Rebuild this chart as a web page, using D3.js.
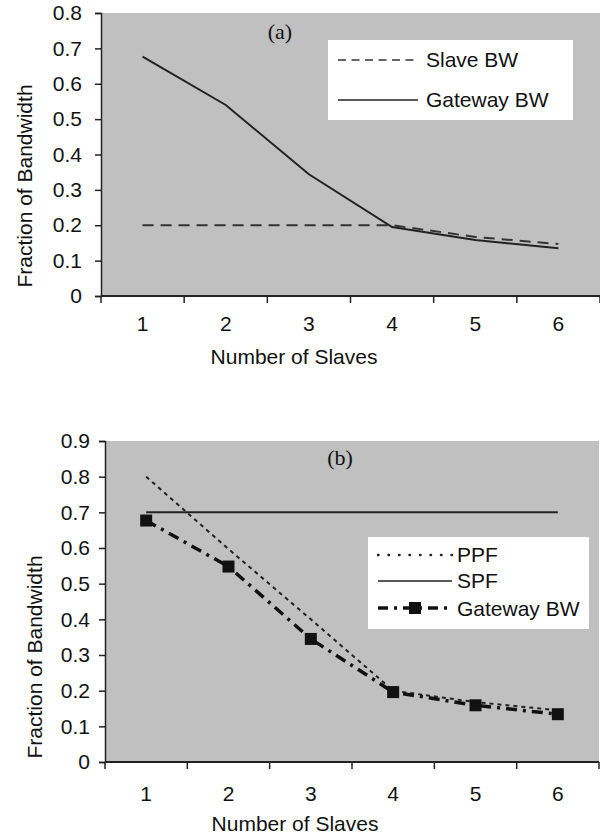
<!DOCTYPE html>
<html>
<head>
<meta charset="utf-8">
<script src="https://cdn.jsdelivr.net/npm/d3@7"></script>
<style>
  body { margin: 0; background: #fff; }
  text { font-family: "Liberation Sans", Arial, sans-serif; fill: #111; }
</style>
</head>
<body>
<div id="chart"></div>
<script>
// data
const slaves = [1, 2, 3, 4, 5, 6];

// panel (a)
const slaveBW = [0.2, 0.2, 0.2, 0.2, 0.167, 0.147];
const gatewayBW_a = [0.677, 0.54, 0.344, 0.195, 0.158, 0.135];
const ticksA = [0, 0.1, 0.2, 0.3, 0.4, 0.5, 0.6, 0.7, 0.8];

// panel (b)
const ppf = [0.8, 0.597, 0.4, 0.2, 0.168, 0.145];
const spf = [0.7, 0.7, 0.7, 0.7, 0.7, 0.7];
const gatewayBW_b = [0.677, 0.548, 0.345, 0.196, 0.159, 0.134];
const ticksB = [0, 0.1, 0.2, 0.3, 0.4, 0.5, 0.6, 0.7, 0.8, 0.9];

const svg = d3.select("#chart").append("svg")
    .attr("width", 600)
    .attr("height", 838);

const fmt = d => d === 0 ? "0" : d3.format(".1f")(d);

// draws one panel, returns scales
function drawPanel(opts) {
    let x = d3.scaleBand().domain(slaves).range([opts.left, opts.right]);
    let y = d3.scaleLinear().domain([0, opts.ymax]).range([opts.bottom, opts.top]);

    // gray plot area
    svg.append("rect")
        .attr("x", opts.left)
        .attr("y", y(opts.ymax))
        .attr("width", opts.right - opts.left)
        .attr("height", y(0) - y(opts.ymax))
        .attr("fill", "#c0c0c0");

    // y axis
    let yAxis = svg.append("g")
        .attr("transform", "translate(" + opts.left + ",0)")
        .call(d3.axisLeft(y).tickValues(opts.ticks).tickFormat(fmt).tickSize(6).tickPadding(opts.ypad));
    yAxis.select(".domain").attr("stroke", "#222").attr("stroke-width", 1.5);
    yAxis.selectAll(".tick line").attr("stroke", "#222").attr("stroke-width", 1.5);
    yAxis.selectAll("text").style("font-size", "21px").style("font-family", "Liberation Sans, Arial").attr("fill", "#111");

    // x axis: labels at band centers, ticks on band edges
    let xAxis = svg.append("g")
        .attr("transform", "translate(0," + opts.bottom + ")");
    xAxis.append("line")
        .attr("x1", opts.left).attr("x2", opts.right)
        .attr("stroke", "#222").attr("stroke-width", 2);
    let edges = slaves.map(d => x(d)).concat([x(slaves[slaves.length - 1]) + x.bandwidth()]);
    xAxis.selectAll(".edge").data(edges).enter().append("line")
        .attr("x1", d => d).attr("x2", d => d)
        .attr("y1", 0).attr("y2", 7)
        .attr("stroke", "#222").attr("stroke-width", 1.5);
    xAxis.selectAll(".lab").data(slaves).enter().append("text")
        .attr("x", d => x(d) + x.bandwidth() / 2)
        .attr("y", opts.xlabDy)
        .attr("text-anchor", "middle")
        .style("font-size", "21px")
        .text(d => d);

    // axis titles
    svg.append("text")
        .attr("x", opts.titleX)
        .attr("y", opts.titleY)
        .attr("text-anchor", "middle")
        .style("font-size", "21px")
        .text("Number of Slaves");

    svg.append("text")
        .attr("transform", "translate(" + opts.yTitleX + "," + opts.yTitleY + ") rotate(-90)")
        .attr("text-anchor", "middle")
        .style("font-size", "21px")
        .text("Fraction of Bandwidth");

    // panel tag
    svg.append("text")
        .attr("x", opts.tagX)
        .attr("y", opts.tagY)
        .attr("text-anchor", "middle")
        .style("font-family", "Liberation Serif, Times New Roman, serif")
        .style("font-size", "22px")
        .text(opts.tag);

    return { x: x, y: y };
}

function lineGen(s) {
    return d3.line()
        .x((d, i) => s.x(slaves[i]) + s.x.bandwidth() / 2)
        .y(d => s.y(d));
}

// ---------- panel (a)
let a = drawPanel({
    left: 101, right: 600, top: 13, bottom: 296, ymax: 0.8, ticks: ticksA, ypad: 13,
    xlabDy: 35, titleX: 294, titleY: 364, yTitleX: 32, yTitleY: 186,
    tag: "(a)", tagX: 280, tagY: 39
});

svg.append("path")
    .datum(slaveBW)
    .attr("d", lineGen(a))
    .attr("fill", "none")
    .attr("stroke", "#333")
    .attr("stroke-width", 2)
    .attr("stroke-dasharray", "11,7");

svg.append("path")
    .datum(gatewayBW_a)
    .attr("d", lineGen(a))
    .attr("fill", "none")
    .attr("stroke", "#222")
    .attr("stroke-width", 2);

// legend (a)
let legA = svg.append("g").attr("transform", "translate(328,40)");
legA.append("rect").attr("width", 245).attr("height", 80).attr("fill", "#fff");
legA.append("line").attr("x1", 10).attr("x2", 90).attr("y1", 20).attr("y2", 20)
    .attr("stroke", "#333").attr("stroke-width", 1.5).attr("stroke-dasharray", "8,5.5");
legA.append("line").attr("x1", 10).attr("x2", 90).attr("y1", 60).attr("y2", 60)
    .attr("stroke", "#222").attr("stroke-width", 1.5);
legA.append("text").attr("x", 98).attr("y", 27).style("font-size", "21px").text("Slave BW");
legA.append("text").attr("x", 98).attr("y", 67).style("font-size", "21px").text("Gateway BW");

// ---------- panel (b)
let b = drawPanel({
    left: 105, right: 599, top: 441, bottom: 762, ymax: 0.9, ticks: ticksB, ypad: 9,
    xlabDy: 39, titleX: 295, titleY: 831, yTitleX: 42, yTitleY: 657,
    tag: "(b)", tagX: 340, tagY: 465
});

svg.append("path")
    .datum(spf)
    .attr("d", lineGen(b))
    .attr("fill", "none")
    .attr("stroke", "#222")
    .attr("stroke-width", 2);

svg.append("path")
    .datum(ppf)
    .attr("d", lineGen(b))
    .attr("fill", "none")
    .attr("stroke", "#222")
    .attr("stroke-width", 2)
    .attr("stroke-dasharray", "4,4");

svg.append("path")
    .datum(gatewayBW_b)
    .attr("d", lineGen(b))
    .attr("fill", "none")
    .attr("stroke", "#111")
    .attr("stroke-width", 3.5)
    .attr("stroke-dasharray", "11,6,3,6");

svg.selectAll(".sq").data(gatewayBW_b).enter().append("rect")
    .attr("x", (d, i) => b.x(slaves[i]) + b.x.bandwidth() / 2 - 6)
    .attr("y", d => b.y(d) - 6)
    .attr("width", 12).attr("height", 12)
    .attr("fill", "#111");

// legend (b)
let legB = svg.append("g").attr("transform", "translate(368,537)");
legB.append("rect").attr("width", 221).attr("height", 92).attr("fill", "#fff");
legB.append("line").attr("x1", 10).attr("x2", 84).attr("y1", 18).attr("y2", 18)
    .attr("stroke", "#222").attr("stroke-width", 2.5).attr("stroke-linecap", "round")
    .attr("stroke-dasharray", "0.5,10");
legB.append("line").attr("x1", 10).attr("x2", 84).attr("y1", 44).attr("y2", 44)
    .attr("stroke", "#222").attr("stroke-width", 1.5);
legB.append("line").attr("x1", 10).attr("x2", 84).attr("y1", 71).attr("y2", 71)
    .attr("stroke", "#111").attr("stroke-width", 3.5).attr("stroke-dasharray", "10,6,3,6");
legB.append("rect").attr("x", 41).attr("y", 65).attr("width", 12).attr("height", 12).attr("fill", "#111");
legB.append("text").attr("x", 89).attr("y", 25).style("font-size", "21px").text("PPF");
legB.append("text").attr("x", 89).attr("y", 51).style("font-size", "21px").text("SPF");
legB.append("text").attr("x", 89).attr("y", 79).style("font-size", "21px").text("Gateway BW");
</script>
</body>
</html>
